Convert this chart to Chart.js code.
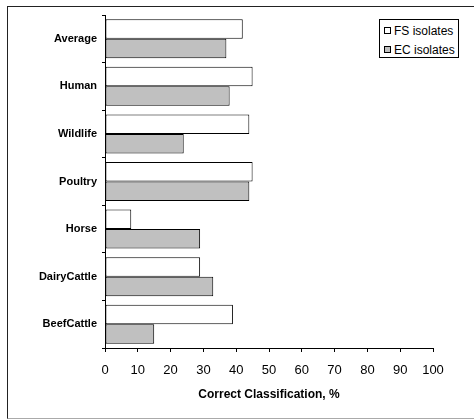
<!DOCTYPE html>
<html>
<head>
<meta charset="utf-8">
<script src="https://cdn.jsdelivr.net/npm/chart.js@4"></script>
<style>
  body { margin: 0; background: #fff; }
  #wrap { position: relative; width: 474px; height: 419px; overflow: hidden; }
  #frame {
    position: absolute; left: 7px; top: 6px; width: 480px; height: 411px;
    border-top: 1px solid #222; border-left: 1px solid #222; border-bottom: 1px solid #aaa;
  }
  #legend {
    position: absolute; left: 379px; top: 19px; width: 78px; height: 37px;
    border: 1px solid #000; background: #fff;
    font: 12px "Liberation Sans", Arial, sans-serif; color: #000;
  }
  .item { position: absolute; left: 4px; height: 14px; line-height: 14px; white-space: nowrap; }
  .box { display: inline-block; width: 5px; height: 5px; border: 1px solid #000; margin-right: 3px; vertical-align: 1px; }
  canvas { position: absolute; left: 0; top: 0; }
</style>
</head>
<body>
<div id="wrap">
  <div id="frame"></div>
  <canvas id="chart" width="474" height="419"></canvas>
  <div id="legend"></div>
</div>
<script>
const categories = ["Average", "Human", "Wildlife", "Poultry", "Horse", "DairyCattle", "BeefCattle"];
const fsIsolates = [42, 45, 44, 45, 8, 29, 39];
const ecIsolates = [37, 38, 24, 44, 29, 33, 15];
const xTicks = [0, 10, 20, 30, 40, 50, 60, 70, 80, 90, 100];

const font = "'Liberation Sans', Arial, sans-serif";

const chart = new Chart(document.getElementById("chart").getContext("2d"), {
  type: "bar",
  data: {
    labels: categories,
    datasets: [
      {
        label: "FS isolates",
        data: fsIsolates,
        backgroundColor: "#ffffff",
        borderColor: "#000000",
        borderWidth: 1,
        borderSkipped: false,
      },
      {
        label: "EC isolates",
        data: ecIsolates,
        backgroundColor: "#c0c0c0",
        borderColor: "#000000",
        borderWidth: 1,
        borderSkipped: false,
      },
    ],
  },
  options: {
    indexAxis: "y",
    responsive: false,
    animation: false,
    layout: { padding: { top: 15, right: 41, bottom: 13, left: 0 } },
    categoryPercentage: 0.82,
    barPercentage: 1,
    plugins: {
      legend: { display: false },
      tooltip: { enabled: false },
    },
    scales: {
      x: {
        min: 0,
        max: 100,
        afterFit: (scale) => { scale.height = 58; },
        afterBuildTicks: (scale) => { scale.ticks = xTicks.map((v) => ({ value: v })); },
        border: { color: "#000", width: 1 },
        grid: { drawOnChartArea: false, color: "#000", tickLength: 4 },
        ticks: { color: "#000", padding: 11, maxRotation: 0, font: { family: font, size: 13 } },
        title: {
          display: true,
          text: "Correct Classification, %",
          color: "#000",
          font: { family: font, size: 12, weight: "bold" },
        },
      },
      y: {
        afterFit: (scale) => { scale.width = 105; },
        border: { color: "#000", width: 1 },
        grid: { drawOnChartArea: false, color: "#000", tickLength: 3 },
        ticks: { color: "#000", padding: 5, font: { family: font, size: 11, weight: "bold" } },
      },
    },
  },
});

// legend built from the datasets
const legend = document.getElementById("legend");
chart.data.datasets.forEach((ds, i) => {
  const item = document.createElement("div");
  item.className = "item";
  item.style.top = (4 + i * 19) + "px";
  item.innerHTML = '<span class="box" style="background:' + ds.backgroundColor + '"></span>' + ds.label;
  legend.appendChild(item);
});
</script>
</body>
</html>
